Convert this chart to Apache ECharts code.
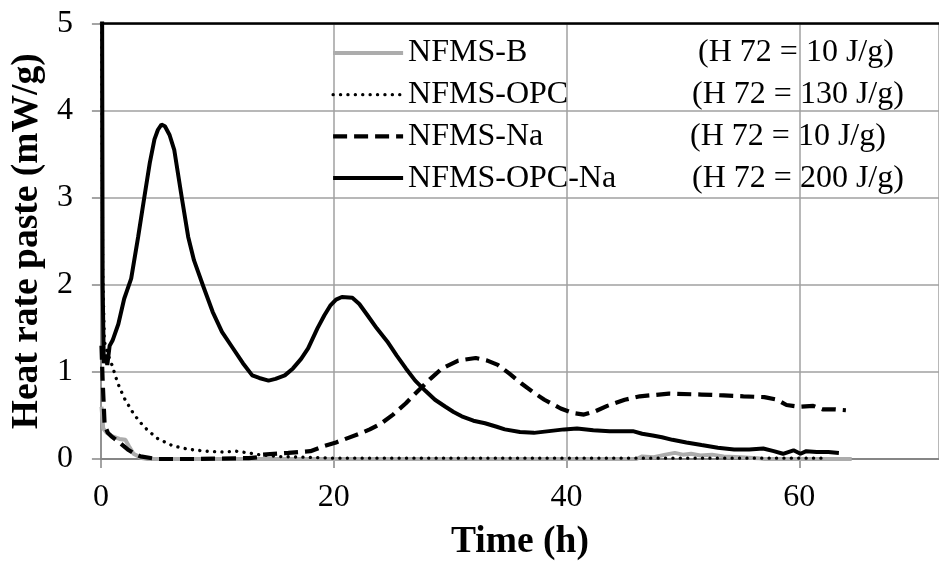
<!DOCTYPE html>
<html>
<head>
<meta charset="utf-8">
<script src="https://cdn.jsdelivr.net/npm/echarts@6/dist/echarts.min.js"></script>
<style>
html,body{margin:0;padding:0;background:#fff;}
#chart{width:939px;height:566px;}
</style>
</head>
<body>
<div id="chart"></div>
<script>
// ---- data (time h, heat rate mW/g) ----
var seriesNames = ['NFMS-B', 'NFMS-OPC', 'NFMS-Na', 'NFMS-OPC-Na'];
var heatLabels = ['(H 72 = 10 J/g)', '(H 72 = 130 J/g)', '(H 72 = 10 J/g)', '(H 72 = 200 J/g)'];
var xTicks = [0, 20, 40, 60];
var yTicks = [0, 1, 2, 3, 4, 5];

var dataB = [
  [0.05, 0.6], [0.2, 0.35], [0.5, 0.3], [1.0, 0.26], [1.6, 0.23], [2.1, 0.22], [2.4, 0.15],
  [2.8, 0.06], [3.5, 0.01], [4.0, 0.0], [20, 0.0], [46.0, 0.0], [46.5, 0.03], [47.5, 0.02],
  [48.5, 0.05], [49.3, 0.07], [50.0, 0.05], [50.7, 0.06], [51.5, 0.04], [52.5, 0.05],
  [53.5, 0.03], [55.0, 0.02], [56.4, 0.01], [57.0, 0.0], [64.5, 0.0]
];
var dataOPC = [
  [0.05, 6.0], [0.15, 2.2], [0.3, 1.35], [0.6, 1.2], [0.9, 1.1], [1.45, 0.87], [2.0, 0.70],
  [2.85, 0.51], [3.7, 0.37], [4.8, 0.24], [6.2, 0.15], [7.6, 0.11], [9.0, 0.09], [10.5, 0.08],
  [11.6, 0.09], [12.7, 0.07], [13.5, 0.05], [15, 0.03], [20, 0.01], [30, 0.01], [40, 0.01],
  [50, 0.01], [62, 0.01]
];
var dataNa = [
  [0.05, 1.3], [0.15, 0.9], [0.32, 0.39], [0.6, 0.3], [0.9, 0.26], [1.5, 0.2], [2.3, 0.11],
  [2.9, 0.06], [3.4, 0.03], [4.8, 0.0], [8, 0.0], [12.7, 0.01], [13.5, 0.02], [13.8, 0.05],
  [16.1, 0.07], [18.0, 0.09], [19.2, 0.15], [20.2, 0.19], [21.2, 0.24], [22.2, 0.29],
  [23.1, 0.34], [24.1, 0.41], [25.1, 0.51], [26.2, 0.64], [27.3, 0.79], [28.3, 0.92],
  [29.3, 1.04], [30.7, 1.13], [32.2, 1.16], [33.2, 1.13], [34.1, 1.08], [35.1, 0.98],
  [36.1, 0.87], [37.1, 0.77], [38.1, 0.68], [39.5, 0.58], [40.5, 0.53], [41.5, 0.51],
  [42.5, 0.55], [43.5, 0.61], [45.0, 0.68], [46.3, 0.72], [48.8, 0.75], [51.6, 0.74],
  [53.5, 0.73], [55.2, 0.72], [57.0, 0.71], [58.1, 0.68], [58.9, 0.62], [60.0, 0.60],
  [61.2, 0.61], [62.0, 0.57], [63.0, 0.57], [64.0, 0.56]
];
var dataOPCNa = [
  [0.05, 9], [0.15, 2.0], [0.25, 1.1], [0.4, 1.2], [0.55, 1.08], [0.75, 1.3], [1.0, 1.36],
  [1.5, 1.55], [2.0, 1.84], [2.6, 2.07], [3.2, 2.55], [3.7, 2.98], [4.2, 3.4], [4.6, 3.67],
  [4.9, 3.78], [5.2, 3.84], [5.5, 3.82], [5.9, 3.72], [6.3, 3.55], [6.95, 3.0], [7.5, 2.55],
  [8.0, 2.28], [8.8, 1.98], [9.6, 1.69], [10.4, 1.46], [11.3, 1.28], [12.2, 1.1], [13.0, 0.96],
  [13.6, 0.93], [14.4, 0.90], [15.0, 0.92], [15.8, 0.96], [16.5, 1.04], [17.2, 1.15],
  [17.8, 1.27], [18.6, 1.5], [19.2, 1.65], [19.7, 1.76], [20.2, 1.83], [20.7, 1.86],
  [21.6, 1.85], [22.2, 1.78], [22.9, 1.65], [23.7, 1.5], [24.6, 1.35], [25.4, 1.19],
  [26.2, 1.04], [27.0, 0.9], [27.9, 0.78], [28.7, 0.68], [29.6, 0.60], [30.3, 0.54],
  [31.0, 0.49], [32.0, 0.44], [33.0, 0.41], [34.0, 0.37], [34.7, 0.34], [36.0, 0.31],
  [37.2, 0.30], [38.5, 0.32], [39.8, 0.34], [40.9, 0.35], [42.3, 0.33], [43.7, 0.32],
  [45.7, 0.32], [46.5, 0.29], [47.4, 0.27], [48.2, 0.25], [49.1, 0.22], [50.3, 0.19],
  [51.6, 0.16], [53.0, 0.13], [54.4, 0.11], [55.7, 0.11], [56.9, 0.12], [57.8, 0.09],
  [58.6, 0.06], [59.5, 0.10], [60.1, 0.06], [60.6, 0.09], [61.5, 0.08], [62.5, 0.08],
  [63.4, 0.07]
];

// ---- styles ----
var FONT = 'Liberation Serif';
var lineStyles = [
  {color: '#acacac', width: 4, type: 'solid'},
  {color: '#000', width: 3.3, type: [0.1, 7.3], cap: 'round'},
  {color: '#000', width: 4.2, type: [14, 7], cap: 'butt'},
  {color: '#000', width: 4, type: 'solid'}
];

var chart = echarts.init(document.getElementById('chart'), null, {renderer: 'canvas'});
var nameWidths = [290, 284, 282, 284];
var rich = {};
for (var i = 0; i < 4; i++) {
  rich['a' + i] = {width: nameWidths[i], fontSize: 32, fontFamily: FONT, color: '#000', lineHeight: 36};
}
rich.b = {fontSize: 32, fontFamily: FONT, color: '#000', lineHeight: 36};

function mkSeries(idx, data) {
  var st = lineStyles[idx];
  return {
    name: seriesNames[idx], type: 'line', data: data, symbol: 'none', showSymbol: false,
    clip: true, lineStyle: st, itemStyle: {color: st.color}, z: 2 + idx
  };
}

var legendData = seriesNames.map(function (n, k) {
  var st = lineStyles[k];
  return {name: n, itemStyle: {opacity: 0},
    lineStyle: {color: st.color, width: st.width, type: st.type, cap: st.cap || 'butt'}};
});

chart.setOption({
  animation: false,
  backgroundColor: '#fff',
  grid: {left: 99.5, top: 23.5, bottom: 105, right: -12.3, containLabel: false},
  legend: {
    orient: 'vertical', left: 326, top: 30, itemWidth: 70, itemHeight: 36, itemGap: 5.7,
    data: legendData,
    itemStyle: {opacity: 0},
    formatter: function (name) {
      var k = seriesNames.indexOf(name);
      return '{a' + k + '|' + name + '}{b|' + heatLabels[k] + '}';
    },
    textStyle: {fontFamily: FONT, fontSize: 32, color: '#000', lineHeight: 36, rich: rich}
  },
  xAxis: [{
    type: 'value', min: 0, max: 72, interval: 20,
    name: 'Time (h)', nameLocation: 'middle', nameGap: 64,
    nameTextStyle: {fontFamily: FONT, fontSize: 37.5, fontWeight: 'bold', color: '#000'},
    axisLine: {show: true, onZero: false, lineStyle: {color: '#868686', width: 2}},
    axisTick: {show: true, inside: false, length: 9, lineStyle: {color: '#868686', width: 1.5}},
    axisLabel: {showMaxLabel: false, margin: 23, fontFamily: FONT, fontSize: 32, color: '#000',
      formatter: function (v) { return xTicks.indexOf(v) >= 0 ? String(v) : ''; }},
    splitLine: {show: true, lineStyle: {color: '#a0a0a0', width: 1.5}}
  }, {
    type: 'value', min: 0, max: 72, position: 'top',
    axisLine: {show: true, onZero: false, lineStyle: {color: '#000', width: 2.5}},
    axisTick: {show: false}, axisLabel: {show: false}, splitLine: {show: false}
  }],
  yAxis: {
    type: 'value', min: 0, max: 5, interval: 1,
    name: 'Heat rate paste (mW/g)', nameLocation: 'middle', nameGap: 53,
    nameTextStyle: {fontFamily: FONT, fontSize: 37.5, fontWeight: 'bold', color: '#000'},
    axisLine: {show: true, onZero: false, lineStyle: {color: '#868686', width: 1.5}},
    axisTick: {show: true, inside: false, length: 9, lineStyle: {color: '#868686', width: 1.5}},
    axisLabel: {margin: 28, fontFamily: FONT, fontSize: 32, color: '#000',
      formatter: function (v) { return yTicks.indexOf(v) >= 0 ? String(v) : ''; }},
    splitLine: {show: true, lineStyle: {color: '#a0a0a0', width: 1.5}}
  },
  series: [
    mkSeries(0, dataB),
    mkSeries(1, dataOPC),
    mkSeries(2, dataNa),
    mkSeries(3, dataOPCNa)
  ]
});
</script>
</body>
</html>
